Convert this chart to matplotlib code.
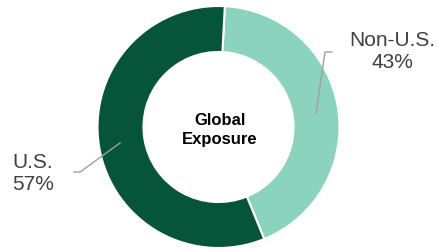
import matplotlib.pyplot as plt

labels = ["Non-U.S.", "U.S."]
shares = [43, 57]
colors = ["#8bd3bc", "#06553b"]

plt.rcParams['font.family'] = ['Liberation Sans', 'DejaVu Sans']

fig = plt.figure(figsize=(4.38, 2.5), dpi=100)
ax = fig.add_axes([0, 0, 1, 1])
ax.set_xlim(0, 438)
ax.set_ylim(0, 250)
ax.axis('off')

# donut
ax.pie(shares, colors=colors, startangle=87, counterclock=False,
       center=(218.5, 123), radius=121, frame=True,
       wedgeprops=dict(width=121 * 0.38, edgecolor='white', linewidth=1.5))
ax.set_xlim(0, 438)
ax.set_ylim(0, 250)
ax.axis('off')

ax.text(220, 120, "Global\nExposure", ha='center', va='center',
        fontsize=12, fontweight='bold', color='black', linespacing=1.3)

# labels with leader lines
ax.plot([316, 325, 332], [250 - 113, 250 - 52, 250 - 52], color='#a0a0a0', lw=1)
ax.text(392, 250 - 52, f"{labels[0]}\n{shares[0]}%", ha='center', va='center',
        fontsize=15, color='#404040', linespacing=1.2)

ax.plot([120, 80, 74], [250 - 143, 250 - 172, 250 - 172], color='#a0a0a0', lw=1)
ax.text(12, 250 - 173, f"{labels[1]}\n{shares[1]}%", ha='left', va='center',
        fontsize=15, color='#404040', linespacing=1.2)

fig.savefig("out.png", dpi=100)
